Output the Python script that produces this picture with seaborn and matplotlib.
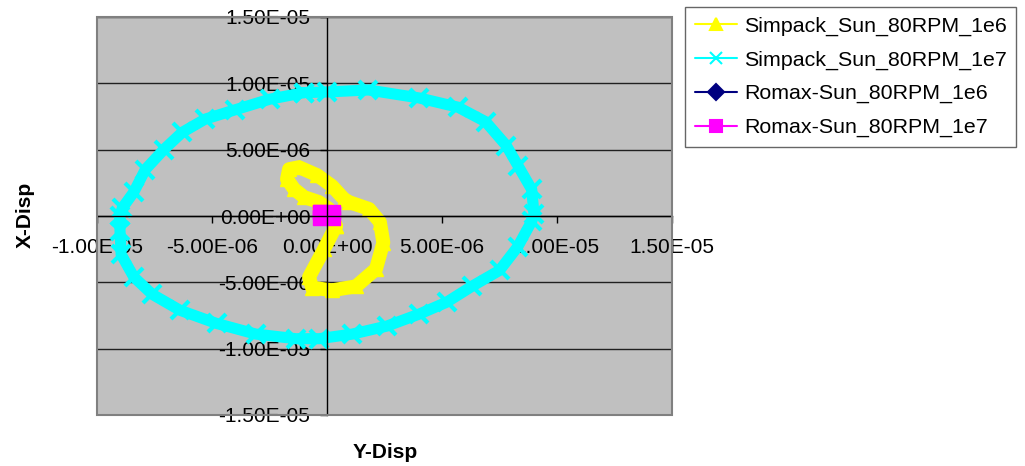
import matplotlib
matplotlib.use("Agg")
import matplotlib.pyplot as plt
import seaborn as sns
import numpy as np
from matplotlib.patches import Rectangle
from matplotlib.ticker import FuncFormatter

sns.set_theme(style="white")
plt.rcParams['font.family'] = ['Liberation Sans', 'DejaVu Sans']
plt.rcParams['xtick.labelsize'] = 15
plt.rcParams['ytick.labelsize'] = 15
plt.rcParams['text.color'] = 'black'

# values, in units of 1e-6
yellow_x = [0.39, -0.13, -0.78, -0.65, 0.22, 1.26, 2.13, 2.45, 2.3, 1.83, 0.96, 0.74,
            0.22, -0.43, -1.22, -1.65, -1.74, -1.43, -1.0, -0.35, 0.09, 0.39]
yellow_y = [-0.75, -2.5, -4.6, -5.4, -5.6, -5.3, -4.0, -2.0, -0.45, 0.53, 1.05, 1.28,
            2.26, 3.08, 3.68, 3.53, 2.78, 2.03, 1.43, 1.05, 0.53, -0.75]

cyan_x = [-1.0, 0.0, 1.8, 4.0, 5.7, 6.9, 7.8, 8.3, 8.9, 9.0, 8.9, 8.3, 7.5, 6.3, 5.2,
          4.0, 2.6, 1.1, -0.35, -1.35, -3.1, -4.8, -6.4, -7.6, -8.4, -8.95, -9.0,
          -9.0, -8.9, -8.4, -7.9, -7.1, -6.3, -5.3, -4.0, -2.5, -1.0]
cyan_y = [9.3, 9.35, 9.5, 8.9, 8.2, 7.1, 5.3, 3.8, 2.0, 0.15, -0.4, -2.3, -4.1, -5.3,
          -6.5, -7.4, -8.3, -8.9, -9.25, -9.25, -8.9, -8.1, -7.1, -5.9, -4.6, -2.9,
          -1.1, 0.0, 0.6, 1.8, 3.5, 5.0, 6.3, 7.3, 8.0, 8.8, 9.3]

navy_x = [0.0, 0.1, 0.0, -0.1, 0.0]
navy_y = [0.1, 0.0, -0.1, 0.0, 0.1]

magenta_x = [-0.3, 0.25, 0.25, -0.3, -0.3]
magenta_y = [0.3, 0.3, -0.15, -0.15, 0.3]

labels = ["Simpack_Sun_80RPM_1e6", "Simpack_Sun_80RPM_1e7",
          "Romax-Sun_80RPM_1e6", "Romax-Sun_80RPM_1e7"]
y_ticks = [-15, -10, -5, 0, 5, 10, 15]
x_ticks = [-10, -5, 0, 5, 10, 15]

scale = 1e-6

fig = plt.figure(figsize=(10.25, 4.66), dpi=100)
ax = fig.add_axes([97 / 1025, 1 - 415 / 466, 575 / 1025, 398 / 466])
ax.set_facecolor("#C0C0C0")

series = [
    (yellow_x, yellow_y, "#FFFF00", "^", 10, 10, 1),
    (cyan_x, cyan_y, "#00FFFF", "x", 8, 13, 3),
    (navy_x, navy_y, "#000080", "D", 1.5, 7, 1),
    (magenta_x, magenta_y, "#FF00FF", "s", 6, 10, 1),
]
for (xs, ys, col, mk, lw, ms, mew), lab in zip(series, labels):
    sns.lineplot(x=np.array(xs) * scale, y=np.array(ys) * scale, sort=False,
                 estimator=None, color=col, linewidth=lw, marker=mk,
                 markersize=ms, markeredgewidth=mew, markeredgecolor=col,
                 label=lab, ax=ax)

ax.set_xlim(-10e-6, 15e-6)
ax.set_ylim(-15e-6, 15e-6)
ax.set_xticks([v * scale for v in x_ticks])
ax.set_yticks([v * scale for v in y_ticks])
fmt = FuncFormatter(lambda v, p: f"{v:.2E}")
ax.xaxis.set_major_formatter(fmt)
ax.yaxis.set_major_formatter(fmt)

ax.yaxis.grid(True, color="#202020", linewidth=1)
ax.xaxis.grid(False)
ax.set_axisbelow(True)

for side in ["top", "right"]:
    ax.spines[side].set_visible(False)
ax.spines["left"].set_position(("data", 0))
ax.spines["bottom"].set_position(("data", 0))
for side in ["left", "bottom"]:
    ax.spines[side].set_color("black")
    ax.spines[side].set_linewidth(1)
ax.add_patch(Rectangle((0, 0), 1, 1, transform=ax.transAxes, fill=False,
                       edgecolor="#808080", linewidth=1.5, clip_on=False, zorder=5))

ax.tick_params(axis="x", direction="out", length=5, width=1, pad=11,
               labelsize=15, colors="black", bottom=True)
ax.tick_params(axis="y", direction="out", length=5, width=1, pad=7,
               labelsize=15, colors="black", left=True)
ax.set_xlabel("")
ax.set_ylabel("")

fig.text(25 / 1025, 1 - 215 / 466, "X-Disp", rotation=90, fontsize=15,
         fontweight="bold", ha="center", va="center")
fig.text(385 / 1025, 1 - 452 / 466, "Y-Disp", fontsize=15,
         fontweight="bold", ha="center", va="center")

leg = ax.legend(loc="upper left", bbox_to_anchor=(685 / 1025, 1 - 7 / 466),
                bbox_transform=fig.transFigure, frameon=True, fancybox=False,
                fontsize=15.4, handlelength=2.0, handletextpad=0.3,
                borderpad=0.45, labelspacing=0.68, borderaxespad=0)
leg.get_frame().set_edgecolor("#404040")
leg.get_frame().set_linewidth(1)
for h in leg.legend_handles:
    h.set_linewidth(1.5)
    h.set_markersize(8)
    h.set_markeredgewidth(1.5)

fig.savefig("out.png", dpi=100)
